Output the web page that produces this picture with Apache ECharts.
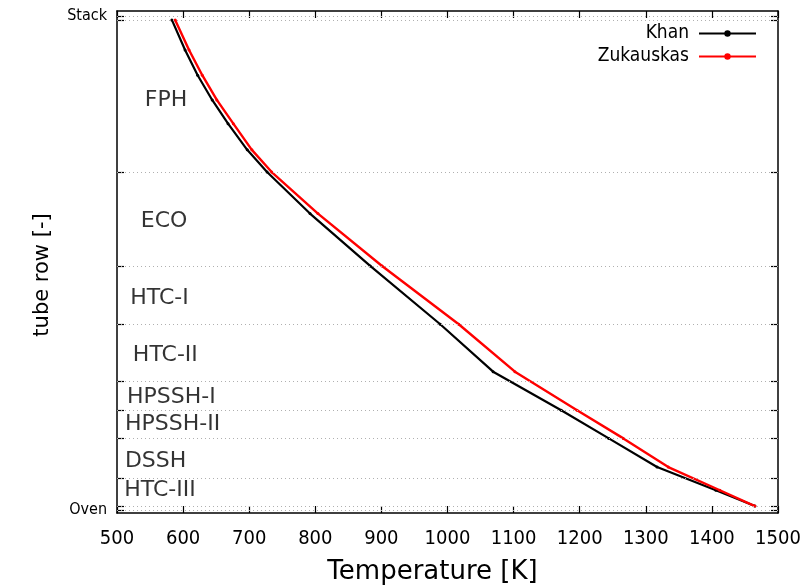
<!DOCTYPE html>
<html>
<head>
<meta charset="utf-8">
<script src="https://cdn.jsdelivr.net/npm/echarts@6/dist/echarts.min.js"></script>
<style>
  html, body { margin: 0; padding: 0; background: #fff; }
  #chart { width: 805px; height: 588px; }
</style>
</head>
<body>
<div id="chart"></div>
<script>
const FONT_NARROW = '"DejaVu Sans Condensed", "DejaVu Sans", sans-serif';
const FONT_WIDE = '"DejaVu Sans", sans-serif';
const TEXT = '#000';

// Tube rows counted upward from the oven (0) to the stack (100)
const rows = [99.2, 93.1, 88.0, 83.0, 78.2, 72.9, 68.4, 60, 49.4, 37.6, 28, 20.2, 14.5, 8.7, 4, 0.8];
// Flue-gas temperature [K] per row for each correlation
const khanTemp      = [583, 603, 622, 644, 668, 697, 727, 792, 883, 989, 1069, 1172, 1244, 1317, 1406, 1465];
const zukauskasTemp = [588, 609, 629, 651, 676, 704, 734, 804, 901, 1017, 1102, 1196, 1266, 1334, 1412, 1465];

// Boundaries between the heat-exchanger banks
const sectionEdges = [0.8, 6.5, 14.5, 20.2, 26.1, 37.6, 49.4, 68.4, 99.2];
// Bank names and where their names are written (row, temperature)
const sectionNames     = ['FPH', 'ECO', 'HTC-I', 'HTC-II', 'HPSSH-I', 'HPSSH-II', 'DSSH', 'HTC-III'];
const sectionLabelRow  = [83.0, 58.5, 42.9, 31.4, 22.9, 17.4, 9.9, 3.9];
const sectionLabelTemp = [542, 536, 520, 524, 515, 512, 512, 511];

// Ends of the gas path
const endRows  = [0, 100];
const endNames = ['Oven', 'Stack'];

const xMin = 500, xMax = 1500, xStep = 100;
const yMin = -0.6, yMax = 101;

const chart = echarts.init(document.getElementById('chart'), null, { renderer: 'canvas' });

const frameLine = { show: true, onZero: false, lineStyle: { color: '#000', width: 1.5 } };
const tickStyle = { show: true, inside: true, length: 7, lineStyle: { color: '#000', width: 1.2 } };
const yTickValues = sectionEdges.concat(endRows);

const khanPts = rows.map((r, i) => [khanTemp[i], r]);
const zukPts  = rows.map((r, i) => [zukauskasTemp[i], r]);

chart.setOption({
  animation: false,
  backgroundColor: '#fff',
  textStyle: { fontFamily: FONT_NARROW, color: TEXT },
  grid: { left: 117, right: 27, top: 11, bottom: 75, containLabel: false, outerBoundsMode: 'none' },
  legend: {
    orient: 'vertical',
    right: 43,
    top: 19,
    align: 'right',
    itemWidth: 57,
    itemHeight: 8,
    itemGap: 4,
    textStyle: { fontFamily: FONT_NARROW, fontSize: 19, color: TEXT, padding: [0, 5, 0, 0] },
    data: ['Khan', 'Zukauskas']
  },
  xAxis: [
    {
      type: 'value', position: 'bottom', min: xMin, max: xMax, interval: xStep,
      name: 'Temperature [K]', nameLocation: 'middle', nameGap: 46,
      nameTextStyle: { fontFamily: FONT_WIDE, fontSize: 26, color: TEXT, padding: [0, 30, 0, 0] },
      axisLine: frameLine, axisTick: tickStyle,
      axisLabel: { fontFamily: FONT_NARROW, fontSize: 20, color: TEXT, margin: 16, formatter: v => String(v) },
      splitLine: { show: false }
    },
    {
      type: 'value', position: 'top', min: xMin, max: xMax, interval: xStep,
      axisLine: frameLine, axisTick: tickStyle,
      axisLabel: { show: false }, splitLine: { show: false }
    }
  ],
  yAxis: [
    {
      type: 'value', position: 'left', min: yMin, max: yMax,
      name: 'tube row [-]', nameLocation: 'middle', nameGap: 64, nameRotate: 90,
      nameTextStyle: { fontFamily: FONT_WIDE, fontSize: 21, color: TEXT, padding: [0, 26, 0, 0] },
      axisLine: frameLine,
      axisTick: Object.assign({}, tickStyle, { customValues: yTickValues }),
      axisLabel: {
        fontFamily: FONT_NARROW, fontSize: 16, color: TEXT, margin: 10,
        customValues: endRows,
        formatter: v => endNames[endRows.indexOf(v)] || ''
      },
      splitLine: { show: false }
    },
    {
      type: 'value', position: 'right', min: yMin, max: yMax,
      axisLine: frameLine,
      axisTick: Object.assign({}, tickStyle, { customValues: yTickValues }),
      axisLabel: { show: false }, splitLine: { show: false }
    }
  ],
  series: [
    {
      name: 'Khan', type: 'line', xAxisIndex: 0, yAxisIndex: 0,
      data: khanPts, smooth: false,
      symbol: 'circle', symbolSize: 3, showSymbol: true,
      lineStyle: { color: '#000', width: 2.2 },
      itemStyle: { color: '#000' },
      z: 3,
      markLine: {
        silent: true, symbol: ['none', 'none'],
        label: { show: false },
        lineStyle: { color: '#b0b0b0', type: [1, 3], width: 1 },
        data: yTickValues.map(v => ({ yAxis: v }))
      }
    },
    {
      name: 'Zukauskas', type: 'line', xAxisIndex: 0, yAxisIndex: 0,
      data: zukPts, smooth: false,
      symbol: 'circle', symbolSize: 3, showSymbol: true,
      lineStyle: { color: '#ff0000', width: 2.4 },
      itemStyle: { color: '#ff0000' },
      z: 4
    },
    {
      name: 'sections', type: 'scatter', xAxisIndex: 0, yAxisIndex: 0,
      symbolSize: 0, silent: true,
      data: sectionNames.map((n, i) => ({ value: [sectionLabelTemp[i], sectionLabelRow[i]], name: n })),
      label: {
        show: true, position: 'right', distance: 0,
        formatter: p => p.name,
        fontFamily: FONT_WIDE, fontSize: 22, color: TEXT
      }
    }
  ]
});
</script>
</body>
</html>
